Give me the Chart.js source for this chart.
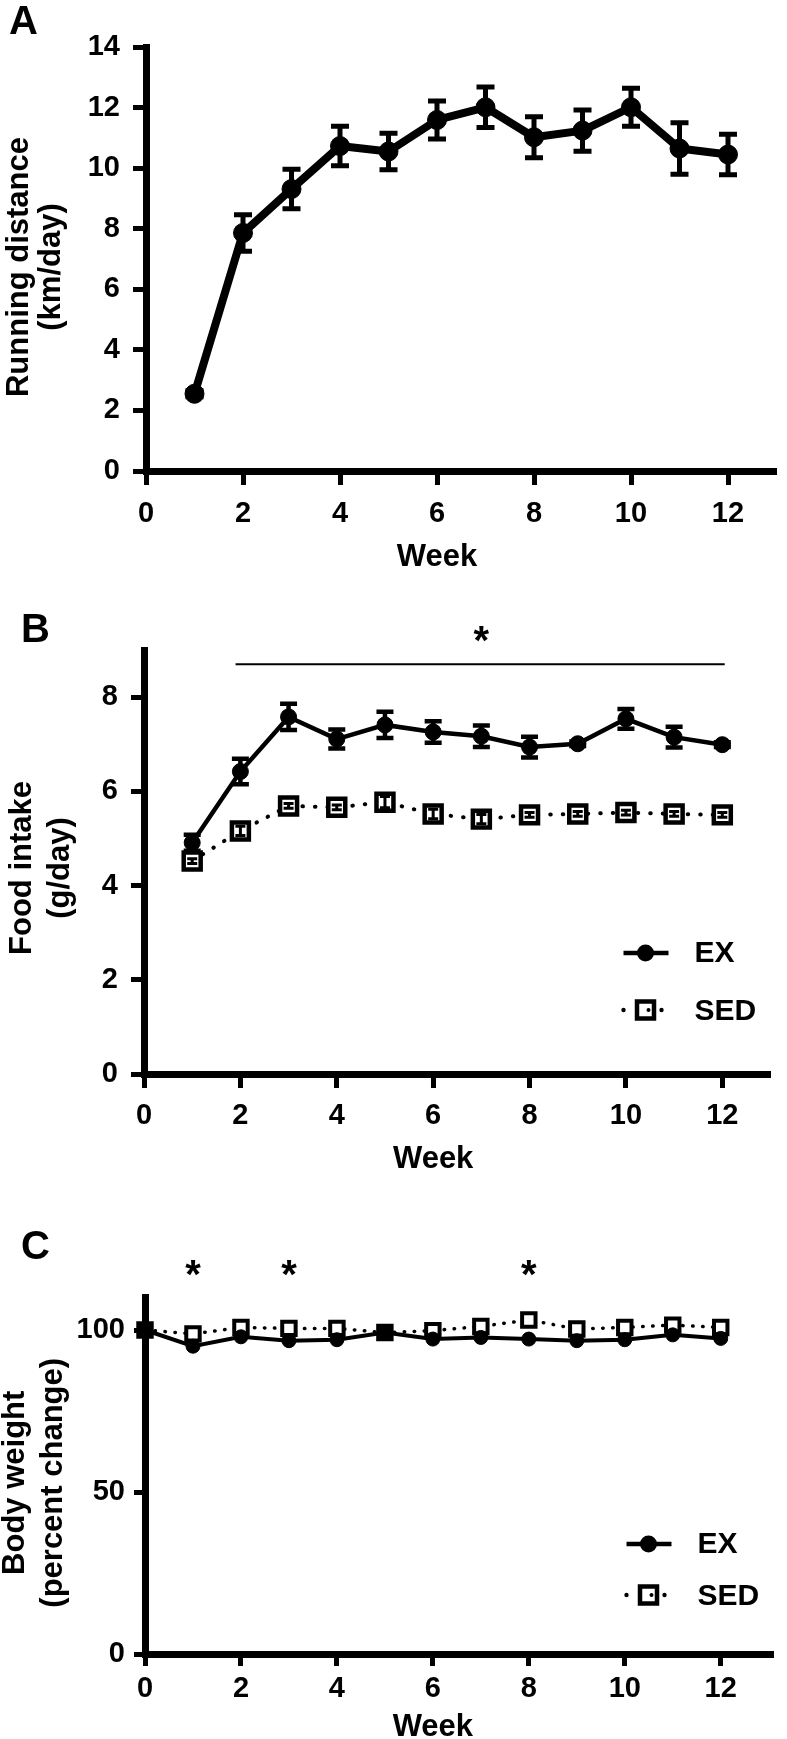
<!DOCTYPE html>
<html>
<head>
<meta charset="utf-8">
<title>Running distance, food intake and body weight</title>
<script src="https://cdn.jsdelivr.net/npm/chart.js@4.4.1/dist/chart.umd.min.js"></script>
<style>
html,body{margin:0;padding:0;background:#fff;}
body{width:787px;height:1739px;position:relative;overflow:hidden;font-family:"Liberation Sans",Arial,Helvetica,sans-serif;}
.panel{position:absolute;left:0;}
.lab{position:absolute;font-weight:bold;font-size:40px;line-height:40px;color:#000;}
</style>
</head>
<body>
<canvas id="cA" class="panel" style="top:0px" width="787" height="580"></canvas>
<canvas id="cB" class="panel" style="top:580px" width="787" height="610"></canvas>
<canvas id="cC" class="panel" style="top:1190px" width="787" height="570"></canvas>
<div class="lab" style="left:9px;top:0px;">A</div>
<div class="lab" style="left:21px;top:608px;">B</div>
<div class="lab" style="left:21px;top:1225px;">C</div>
<script>
// ---------------- data ----------------
const weeksA = [1, 2, 3, 4, 5, 6, 7, 8, 9, 10, 11, 12];
const runDistance = [2.55, 7.86, 9.31, 10.73, 10.55, 11.59, 12.01, 11.02, 11.24, 12.01, 10.65, 10.45];
const runDistanceErr = [0.1, 0.6, 0.65, 0.65, 0.6, 0.63, 0.67, 0.68, 0.68, 0.63, 0.85, 0.67];

const weeksB = [1, 2, 3, 4, 5, 6, 7, 8, 9, 10, 11, 12];
const foodEX = [4.91, 6.42, 7.58, 7.11, 7.41, 7.26, 7.17, 6.94, 7.01, 7.54, 7.15, 6.99];
const foodEXErr = [0.17, 0.27, 0.28, 0.2, 0.28, 0.23, 0.23, 0.22, 0.05, 0.21, 0.22, 0.05];
const foodSED = [4.52, 5.16, 5.69, 5.66, 5.77, 5.52, 5.41, 5.50, 5.52, 5.55, 5.52, 5.50];
const foodSEDErr = [0.05, 0.1, 0.05, 0.05, 0.12, 0.1, 0.1, 0.05, 0.05, 0.05, 0.05, 0.05];

const weeksC = [0, 1, 2, 3, 4, 5, 6, 7, 8, 9, 10, 11, 12];
const bodyEX = [100, 95.0, 97.9, 96.7, 97.0, 99.2, 97.2, 97.7, 97.2, 96.7, 97.0, 98.5, 97.4];
const bodySED = [100, 98.8, 100.8, 100.5, 100.5, 99.2, 99.8, 101.1, 103.1, 100.3, 100.8, 101.5, 100.8];

const seriesNames = ['EX', 'SED'];
const xTitle = 'Week';
const yTitleA = ['Running distance', '(km/day)'];
const yTitleB = ['Food intake', '(g/day)'];
const yTitleC = ['Body weight', '(percent change)'];
const xTickValues = [0, 2, 4, 6, 8, 10, 12];
const yTicksA = [0, 2, 4, 6, 8, 10, 12, 14];
const yTicksB = [0, 2, 4, 6, 8];
const yTicksC = [0, 50, 100];

const sigBarB = [1.9, 12.05, 8.7];     // from week, to week, level
const starsB = [[7, 9.4]];              // week, level
const starWeeksC = [1, 3, 8];
const starLevelC = 120;

// ---------------- helpers ----------------
const FONT = '"Liberation Sans", Arial, Helvetica, sans-serif';
Chart.defaults.font.family = FONT;
Chart.defaults.color = '#000';
function bold(size, lh) { return {family: FONT, size: size, weight: 'bold', lineHeight: lh || 1.2}; }
function pts(xs, ys) { return xs.map((x, i) => ({x: x, y: ys[i]})); }

function axis(o) {
  return {
    type: 'linear', min: o.min, max: o.max,
    afterFit: s => { if (o.w !== undefined) s.width = o.w; if (o.h !== undefined) s.height = o.h; },
    afterBuildTicks: s => { s.ticks = o.ticks.map(v => ({value: v})); },
    ticks: {color: '#000', font: bold(29), padding: o.pad, maxRotation: 0, minRotation: 0, autoSkip: false,
            callback: v => String(v)},
    grid: {display: true, drawOnChartArea: false, drawTicks: true, tickLength: o.tl, tickWidth: 5,
           tickColor: '#000', color: '#000'},
    border: {display: true, width: 7, color: '#000'},
    title: {display: false}
  };
}

function extras(cfg) {
  return {
    id: 'extras',
    afterDatasetsDraw(chart) {
      const ctx = chart.ctx, xs = chart.scales.x, ys = chart.scales.y;
      (cfg.err || []).forEach(set => {
        const data = chart.data.datasets[set.ds].data;
        ctx.save();
        ctx.strokeStyle = '#000'; ctx.lineWidth = set.width; ctx.lineCap = 'butt';
        data.forEach((p, i) => {
          const e = set.values[i]; if (!e) return;
          const x = xs.getPixelForValue(p.x);
          const y1 = ys.getPixelForValue(p.y + e), y2 = ys.getPixelForValue(p.y - e);
          ctx.beginPath();
          ctx.moveTo(x, y1); ctx.lineTo(x, y2);
          ctx.moveTo(x - set.cap, y1); ctx.lineTo(x + set.cap, y1);
          ctx.moveTo(x - set.cap, y2); ctx.lineTo(x + set.cap, y2);
          ctx.stroke();
        });
        ctx.restore();
      });
    },
    afterDraw(chart) {
      const ctx = chart.ctx, xs = chart.scales.x, ys = chart.scales.y, area = chart.chartArea;
      ctx.save();
      ctx.fillStyle = '#000'; ctx.strokeStyle = '#000';
      // axis titles
      ctx.font = 'bold 31px ' + FONT;
      ctx.textAlign = 'center'; ctx.textBaseline = 'middle';
      ctx.fillText(cfg.xt.text, xs.getPixelForValue(cfg.xt.at), area.bottom + cfg.xt.dy);
      const cy = (area.top + area.bottom) / 2 + cfg.yt.dy;
      cfg.yt.lines.forEach((line, i) => {
        ctx.save();
        ctx.translate(cfg.yt.xs[i], cy);
        ctx.rotate(-Math.PI / 2);
        ctx.fillText(line, 0, 0);
        ctx.restore();
      });
      if (cfg.bar) {
        ctx.lineWidth = 2;
        const yb = ys.getPixelForValue(cfg.bar[2]);
        ctx.beginPath();
        ctx.moveTo(xs.getPixelForValue(cfg.bar[0]), yb);
        ctx.lineTo(xs.getPixelForValue(cfg.bar[1]), yb);
        ctx.stroke();
      }
      (cfg.stars || []).forEach(s => {
        ctx.font = 'bold 40px ' + FONT;
        ctx.textAlign = 'center'; ctx.textBaseline = 'alphabetic';
        ctx.fillText('*', xs.getPixelForValue(s[0]), ys.getPixelForValue(s[1]) + 0.58 * 40);
      });
      if (cfg.legend) {
        const lg = cfg.legend;
        const x0 = area.right - 147;
        const yEx = area.bottom - lg.exOff, ySed = area.bottom - lg.sedOff;
        ctx.lineWidth = lg.lw;
        ctx.beginPath(); ctx.moveTo(x0, yEx); ctx.lineTo(x0 + 45, yEx); ctx.stroke();
        ctx.beginPath(); ctx.arc(x0 + 22, yEx, 8.5, 0, 2 * Math.PI); ctx.fill();
        [0, 38].forEach(dx => { ctx.beginPath(); ctx.arc(x0 + dx, ySed, 2.2, 0, 2 * Math.PI); ctx.fill(); });
        ctx.lineWidth = 4.5;
        ctx.fillStyle = '#fff';
        ctx.fillRect(x0 + 13.5, ySed - 8.5, 17, 17);
        ctx.strokeRect(x0 + 13.5, ySed - 8.5, 17, 17);
        ctx.fillStyle = '#000';
        ctx.beginPath(); ctx.arc(x0 + 25, ySed, 2, 0, 2 * Math.PI); ctx.fill();
        ctx.font = 'bold 30px ' + FONT;
        ctx.textAlign = 'left'; ctx.textBaseline = 'middle';
        ctx.fillText(seriesNames[0], x0 + 71, yEx + 1);
        ctx.fillText(seriesNames[1], x0 + 71, ySed + 2);
      }
      ctx.restore();
    }
  };
}

const base = {
  responsive: false, maintainAspectRatio: false, animation: false, devicePixelRatio: 1,
  plugins: {legend: {display: false}, tooltip: {enabled: false}, title: {display: false}},
  elements: {line: {tension: 0}}
};

// ---------------- Panel A ----------------
new Chart(document.getElementById('cA'), {
  type: 'line',
  data: {datasets: [{
    data: pts(weeksA, runDistance), borderColor: '#000', borderWidth: 8,
    pointStyle: 'circle', pointRadius: 9.5, pointBackgroundColor: '#000', pointBorderColor: '#000',
    pointBorderWidth: 1, clip: false, borderJoinStyle: 'round'
  }]},
  options: Object.assign({}, base, {
    layout: {padding: {top: 47, right: 4, left: 0, bottom: 0}},
    scales: {
      x: axis({min: 0, max: 13, ticks: xTickValues, h: 109, tl: 14, pad: 12}),
      y: axis({min: 0, max: 14, ticks: yTicksA, w: 146, tl: 13, pad: 13})
    }
  }),
  plugins: [extras({
    err: [{ds: 0, values: runDistanceErr, cap: 9, width: 5}],
    xt: {text: xTitle, at: 6, dy: 86.5},
    yt: {lines: yTitleA, xs: [19, 51.5], dy: 8}
  })]
});

// ---------------- Panel B ----------------
new Chart(document.getElementById('cB'), {
  type: 'line',
  data: {datasets: [
    {label: seriesNames[0], data: pts(weeksB, foodEX), borderColor: '#000', borderWidth: 4.5,
     pointStyle: 'circle', pointRadius: 8, pointBackgroundColor: '#000', pointBorderColor: '#000',
     pointBorderWidth: 1, clip: false},
    {label: seriesNames[1], data: pts(weeksB, foodSED), borderColor: '#000', borderWidth: 4,
     borderDash: [0.5, 12], borderCapStyle: 'round',
     pointStyle: 'rect', pointRadius: 12, pointBackgroundColor: '#fff', pointBorderColor: '#000',
     pointBorderWidth: 4.5, clip: false}
  ]},
  options: Object.assign({}, base, {
    layout: {padding: {top: 70, right: 9, left: 0, bottom: 0}},
    scales: {
      x: axis({min: 0, max: 13, ticks: xTickValues, h: 116, tl: 14, pad: 11}),
      y: axis({min: 0, max: 9, ticks: yTicksB, w: 144, tl: 13, pad: 13})
    }
  }),
  plugins: [extras({
    err: [{ds: 0, values: foodEXErr, cap: 8.5, width: 4.5}, {ds: 1, values: foodSEDErr, cap: 5, width: 3}],
    bar: sigBarB, stars: starsB,
    legend: {exOff: 121, sedOff: 64, lw: 4.5},
    xt: {text: xTitle, at: 6, dy: 85},
    yt: {lines: yTitleB, xs: [22.5, 60], dy: 6}
  })]
});

// ---------------- Panel C ----------------
new Chart(document.getElementById('cC'), {
  type: 'line',
  data: {datasets: [
    {label: seriesNames[0], data: pts(weeksC, bodyEX), borderColor: '#000', borderWidth: 4,
     pointStyle: 'circle', pointRadius: 7, pointBackgroundColor: '#000', pointBorderColor: '#000',
     pointBorderWidth: 1, clip: false},
    {label: seriesNames[1], data: pts(weeksC, bodySED), borderColor: '#000', borderWidth: 3.5,
     borderDash: [0.5, 9.5], borderCapStyle: 'round',
     pointStyle: 'rect', pointRadius: 9.5, pointBackgroundColor: '#fff', pointBorderColor: '#000',
     pointBorderWidth: 4, clip: false}
  ]},
  options: Object.assign({}, base, {
    layout: {padding: {top: 107.6, right: 9.3, left: 0, bottom: 0}},
    scales: {
      x: axis({min: 0, max: 13.1, ticks: xTickValues, h: 106, tl: 12, pad: 6}),
      y: axis({min: 0, max: 110, ticks: yTicksC, w: 145, tl: 11, pad: 9})
    }
  }),
  plugins: [extras({
    stars: starWeeksC.map(w => [w, starLevelC]),
    legend: {exOff: 110, sedOff: 59, lw: 4.5},
    xt: {text: xTitle, at: 6, dy: 73.5},
    yt: {lines: yTitleC, xs: [15.5, 53.5], dy: 7}
  })]
});
</script>
</body>
</html>
